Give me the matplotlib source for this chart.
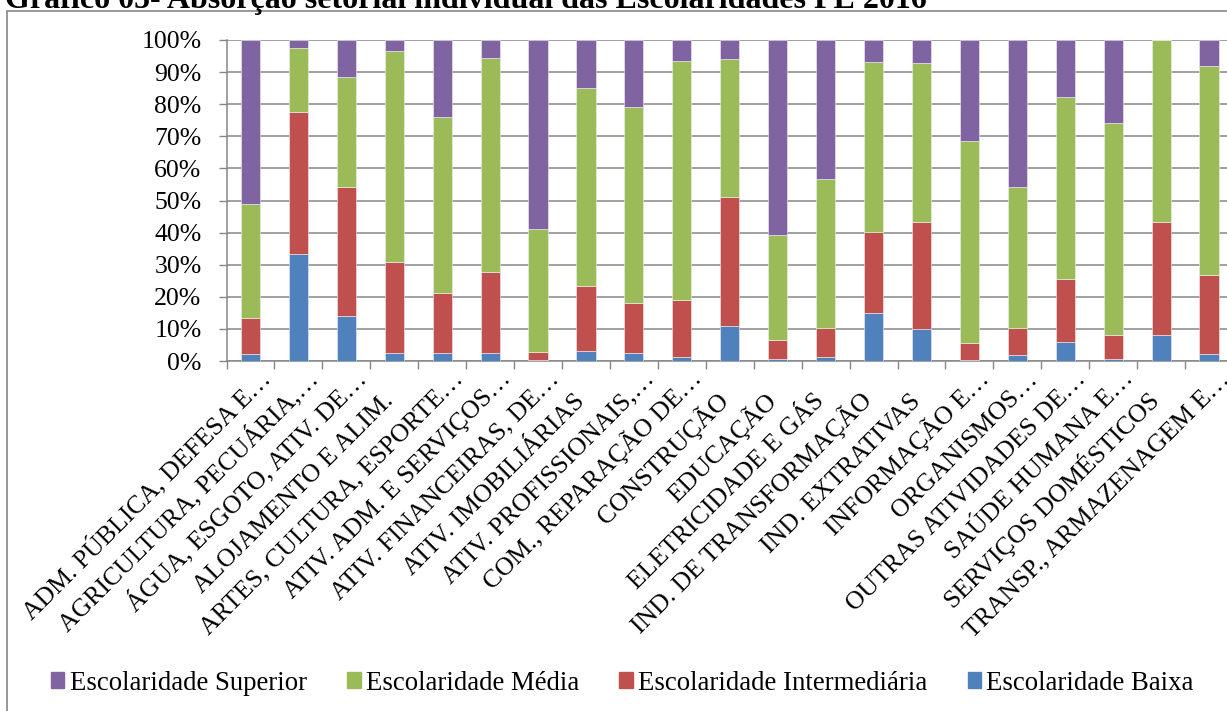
import matplotlib
matplotlib.use("Agg")
import matplotlib.pyplot as plt
import matplotlib.transforms as mtransforms
from matplotlib.patches import Rectangle, Patch
import numpy as np

plt.rcParams["font.family"] = ["Liberation Serif", "DejaVu Serif"]

setores = [
    "ADM. PÚBLICA, DEFESA E…",
    "AGRICULTURA, PECUÁRIA,…",
    "ÁGUA, ESGOTO, ATIV. DE…",
    "ALOJAMENTO E ALIM.",
    "ARTES, CULTURA, ESPORTE…",
    "ATIV. ADM. E SERVIÇOS…",
    "ATIV. FINANCEIRAS, DE…",
    "ATIV. IMOBILIÁRIAS",
    "ATIV. PROFISSIONAIS,…",
    "COM., REPARAÇÃO DE…",
    "CONSTRUÇÃO",
    "EDUCAÇÃO",
    "ELETRICIDADE E GÁS",
    "IND. DE TRANSFORMAÇÃO",
    "IND. EXTRATIVAS",
    "INFORMAÇÃO E…",
    "ORGANISMOS…",
    "OUTRAS ATIVIDADES DE…",
    "SAÚDE HUMANA E…",
    "SERVIÇOS DOMÉSTICOS",
    "TRANSP., ARMAZENAGEM E…",
]

# participação (%) de cada escolaridade por setor
baixa = [2.1, 33.4, 13.9, 2.5, 2.6, 2.6, 0.3, 3.1, 2.4, 1.3, 10.8,
         0.7, 1.4, 15.1, 9.9, 0.3, 1.8, 6.0, 0.6, 8.2, 2.1]
intermediaria = [11.2, 44.3, 40.3, 28.4, 18.6, 25.0, 2.4, 20.3, 15.8, 17.7, 40.4,
                 5.8, 8.8, 25.2, 33.5, 5.2, 8.6, 19.4, 7.6, 35.2, 24.7]
media = [35.5, 19.8, 34.4, 65.7, 54.8, 66.7, 38.5, 61.6, 61.0, 74.5, 42.9,
         32.8, 46.4, 52.8, 49.5, 63.0, 43.9, 56.9, 65.8, 56.6, 65.2]
superior = [51.2, 2.5, 11.4, 3.4, 24.0, 5.7, 58.8, 15.0, 20.8, 6.5, 5.9,
            60.7, 43.4, 6.9, 7.1, 31.5, 45.7, 17.7, 26.0, 0.0, 8.0]

cor_baixa = "#4F81BD"
cor_inter = "#C0504D"
cor_media = "#9BBB59"
cor_sup = "#8064A2"
cinza = "#868686"
fs = 18.5

W, H = 1227, 711
fig = plt.figure(figsize=(W / 100, H / 100), dpi=100)

# moldura do gráfico
fig.patches.append(Rectangle((7 / W, -0.1), 1.1, 1 - 10.5 / H + 0.1,
                             transform=fig.transFigure, fill=False,
                             edgecolor=cinza, linewidth=1.2))

fig.text(5 / W, 1 - 8 / H,
         "Gráfico 05- Absorção setorial individual das Escolaridades PE 2016",
         fontsize=23, fontweight="bold", ha="left", va="baseline")

left, right, top, bottom = 226.5, 1233, 40, 361
ax = fig.add_axes([left / W, 1 - bottom / H, (right - left) / W, (bottom - top) / H])

x = np.arange(len(setores))
b = np.array(baixa)
i = np.array(intermediaria)
m = np.array(media)
s = np.array(superior)
total = b + i + m + s
b, i, m, s = (v / total * 100 for v in (b, i, m, s))

largura = 0.4
borda = dict(edgecolor="#f2f2f2", linewidth=0.4, zorder=3)
ax.bar(x, b, largura, color=cor_baixa, **borda)
ax.bar(x, i, largura, bottom=b, color=cor_inter, **borda)
ax.bar(x, m, largura, bottom=b + i, color=cor_media, **borda)
ax.bar(x, s, largura, bottom=b + i + m, color=cor_sup, **borda)

ax.set_xlim(-0.5, len(setores) - 0.5)
ax.set_ylim(0, 100)
ax.set_yticks(np.arange(0, 101, 10))
ax.set_yticklabels([f"{v}%" for v in range(0, 101, 10)], fontsize=fs)
ax.yaxis.grid(True, color=cinza, linewidth=1.1, zorder=0)
ax.tick_params(axis="y", length=6, width=1.0, color=cinza, pad=12)

# marcas nos limites das categorias
ax.set_xticks(np.arange(-0.5, len(setores) - 0.4, 1.0))
ax.set_xticklabels([])
ax.tick_params(axis="x", length=6, width=1.0, color=cinza)

for lado in ("top", "right"):
    ax.spines[lado].set_visible(False)
for lado in ("left", "bottom"):
    ax.spines[lado].set_color(cinza)
    ax.spines[lado].set_linewidth(1.1)

# rótulos inclinados das categorias
for k, rotulo in enumerate(setores):
    if rotulo.endswith("…"):
        dx, dy = 15.5, -13.7
    else:
        dx, dy = 0.0, -29.5
    trans = ax.get_xaxis_transform() + mtransforms.ScaledTranslation(
        dx / 72, dy / 72, fig.dpi_scale_trans)
    ax.text(k, 0, rotulo, transform=trans, rotation=45, rotation_mode="anchor",
            ha="right", va="baseline", fontsize=fs)

handles = [Patch(color=cor_sup, label="Escolaridade Superior"),
           Patch(color=cor_media, label="Escolaridade Média"),
           Patch(color=cor_inter, label="Escolaridade Intermediária"),
           Patch(color=cor_baixa, label="Escolaridade Baixa")]
fig.legend(handles=handles, loc="center left", bbox_to_anchor=(51 / W, 1 - 683 / H),
           ncol=4, frameon=False, fontsize=19.3, borderpad=0, borderaxespad=0,
           handlelength=0.5, handleheight=0.5, handletextpad=0.2,
           columnspacing=1.5)

fig.savefig("out.png", dpi=100)
